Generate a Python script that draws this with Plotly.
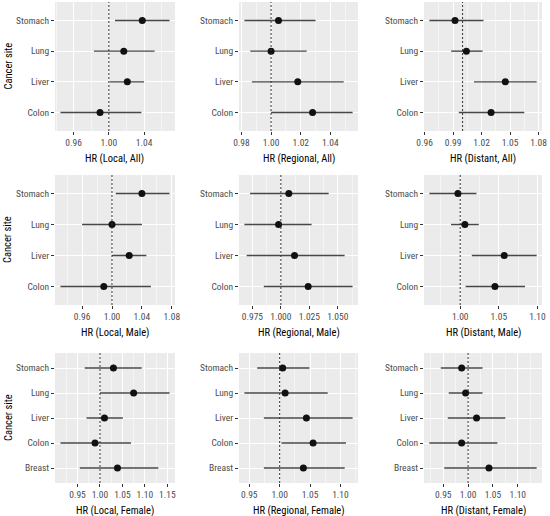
import plotly.graph_objects as go

# ---------------- data ----------------
SITES4 = ["Stomach", "Lung", "Liver", "Colon"]
SITES5 = ["Stomach", "Lung", "Liver", "Colon", "Breast"]
REF_HR = 1.0

# Local, All
local_all_hr = [1.038, 1.017, 1.021, 0.990]
local_all_lo = [1.007, 0.983, 1.001, 0.945]
local_all_hi = [1.069, 1.052, 1.040, 1.037]
# Regional, All
regional_all_hr = [1.005, 1.000, 1.018, 1.028]
regional_all_lo = [0.982, 0.986, 0.987, 1.000]
regional_all_hi = [1.030, 1.024, 1.049, 1.055]
# Distant, All
distant_all_hr = [0.992, 1.004, 1.045, 1.030]
distant_all_lo = [0.965, 0.988, 1.012, 0.996]
distant_all_hi = [1.022, 1.021, 1.078, 1.065]
# Local, Male
local_male_hr = [1.040, 1.000, 1.023, 0.989]
local_male_lo = [1.005, 0.960, 1.000, 0.931]
local_male_hi = [1.077, 1.040, 1.046, 1.052]
# Regional, Male
regional_male_hr = [1.007, 0.998, 1.012, 1.024]
regional_male_lo = [0.973, 0.968, 0.970, 0.985]
regional_male_hi = [1.042, 1.027, 1.056, 1.063]
# Distant, Male
distant_male_hr = [0.997, 1.006, 1.057, 1.045]
distant_male_lo = [0.960, 0.988, 1.015, 1.007]
distant_male_hi = [1.021, 1.024, 1.099, 1.084]
# Local, Female
local_female_hr = [1.030, 1.075, 1.010, 0.989, 1.039]
local_female_lo = [0.966, 1.000, 0.970, 0.912, 0.955]
local_female_hi = [1.093, 1.155, 1.051, 1.069, 1.130]
# Regional, Female
regional_female_hr = [1.005, 1.009, 1.044, 1.055, 1.039]
regional_female_lo = [0.963, 0.942, 0.974, 1.003, 0.974]
regional_female_hi = [1.049, 1.079, 1.120, 1.109, 1.107]
# Distant, Female
distant_female_hr = [0.987, 0.995, 1.017, 0.987, 1.042]
distant_female_lo = [0.945, 0.961, 0.959, 0.922, 0.952]
distant_female_hi = [1.029, 1.029, 1.075, 1.059, 1.138]

X_TITLES = ["HR (Local, All)", "HR (Regional, All)", "HR (Distant, All)",
            "HR (Local, Male)", "HR (Regional, Male)", "HR (Distant, Male)",
            "HR (Local, Female)", "HR (Regional, Female)", "HR (Distant, Female)"]
X_TICKS = [
    [0.96, 1.00, 1.04],
    [0.98, 1.00, 1.02, 1.04],
    [0.96, 0.99, 1.02, 1.05, 1.08],
    [0.96, 1.00, 1.04, 1.08],
    [0.975, 1.000, 1.025, 1.050],
    [1.00, 1.05, 1.10],
    [0.95, 1.00, 1.05, 1.10, 1.15],
    [0.95, 1.00, 1.05, 1.10],
    [0.95, 1.00, 1.05, 1.10],
]
TICK_DECIMALS = [2, 2, 2, 2, 3, 2, 2, 2, 2]
Y_TITLE = "Cancer site"

panels = [
    (SITES4, local_all_hr, local_all_lo, local_all_hi),
    (SITES4, regional_all_hr, regional_all_lo, regional_all_hi),
    (SITES4, distant_all_hr, distant_all_lo, distant_all_hi),
    (SITES4, local_male_hr, local_male_lo, local_male_hi),
    (SITES4, regional_male_hr, regional_male_lo, regional_male_hi),
    (SITES4, distant_male_hr, distant_male_lo, distant_male_hi),
    (SITES5, local_female_hr, local_female_lo, local_female_hi),
    (SITES5, regional_female_hr, regional_female_lo, regional_female_hi),
    (SITES5, distant_female_hr, distant_female_lo, distant_female_hi),
]

# ---------------- layout geometry ----------------
W, H = 550, 516
COLS = [(55, 175), (239, 358), (424, 542)]
ROWS = [(2, 131), (175, 305), (353, 483)]
XTITLE_OFFSET = 27   # px below panel bottom (centre of title)
YTITLE_X = 8

FONT = "Liberation Sans Narrow, Roboto Condensed, Arial Narrow, Liberation Sans, Arial, sans-serif"
PANEL_BG = "#EBEBEB"

fig = go.Figure()
layout = dict(
    template="none",
    width=W, height=H, margin=dict(l=0, r=0, t=0, b=0, pad=0),
    paper_bgcolor="white", plot_bgcolor=PANEL_BG, showlegend=False,
    font=dict(family=FONT, size=10, color="black"),
)
shapes = []
annotations = []

for i, (sites, hr, lo, hi) in enumerate(panels):
    r, c = divmod(i, 3)
    xn = "x" if i == 0 else f"x{i+1}"
    yn = "y" if i == 0 else f"y{i+1}"
    xk = "xaxis" if i == 0 else f"xaxis{i+1}"
    yk = "yaxis" if i == 0 else f"yaxis{i+1}"

    fig.add_trace(go.Scatter(
        x=hr, y=sites, mode="markers", xaxis=xn, yaxis=yn,
        marker=dict(color="#111111", size=7, line=dict(width=0)),
        error_x=dict(type="data", symmetric=False,
                     array=[h - p for h, p in zip(hi, hr)],
                     arrayminus=[p - l for p, l in zip(hr, lo)],
                     width=0, thickness=1.4, color="#484848"),
        hoverinfo="skip",
    ))

    dmin, dmax = min(lo), max(hi)
    span = dmax - dmin
    xr = [dmin - 0.05 * span, dmax + 0.05 * span]
    n = len(sites)

    ticks = X_TICKS[i]
    step = ticks[1] - ticks[0]
    ext = [ticks[0] - step] + ticks + [ticks[-1] + step]
    minor_vals = [(a + b) / 2 for a, b in zip(ext[:-1], ext[1:])]
    minor_vals = [v for v in minor_vals if xr[0] <= v <= xr[1]]
    labels = [f"{v:.{TICK_DECIMALS[i]}f}" for v in ticks]

    x0, x1 = COLS[c]
    t, b = ROWS[r]
    layout[xk] = dict(
        domain=[x0 / W, x1 / W], anchor=yn, range=xr, automargin=False,
        tickmode="array", tickvals=ticks, ticktext=labels, tickangle=0,
        showgrid=True, gridcolor="white", gridwidth=1,
        minor=dict(tickmode="array", tickvals=minor_vals, showgrid=True,
                   gridcolor="white", gridwidth=0.5, ticks=""),
        ticks="outside", ticklen=3, tickwidth=1, tickcolor="#333333",
        tickfont=dict(size=9.5, color="#4D4D4D", family=FONT),
        zeroline=False, showline=False, title=dict(text=""),
    )
    layout[yk] = dict(
        domain=[1 - b / H, 1 - t / H], anchor=xn, automargin=False,
        type="category", categoryorder="array", categoryarray=sites[::-1],
        range=[-0.6, n - 0.4],
        showgrid=True, gridcolor="white", gridwidth=1,
        ticks="outside", ticklen=3, tickwidth=1, tickcolor="#333333",
        tickfont=dict(size=9.5, color="#4D4D4D", family=FONT),
        zeroline=False, showline=False, title=dict(text=""),
    )
    shapes.append(dict(type="line", xref=xn, yref=f"{yn} domain",
                       x0=REF_HR, x1=REF_HR, y0=0, y1=1,
                       line=dict(color="#333333", width=1, dash="2px,2px")))
    annotations.append(dict(
        text=X_TITLES[i], xref="paper", yref="paper",
        x=(x0 + x1) / 2 / W, y=1 - (b + XTITLE_OFFSET) / H,
        xanchor="center", yanchor="middle", showarrow=False,
        font=dict(size=10.5, color="black", family=FONT),
    ))
    if c == 0:
        annotations.append(dict(
            text=Y_TITLE, xref="paper", yref="paper",
            x=YTITLE_X / W, y=1 - (t + b) / 2 / H,
            xanchor="center", yanchor="middle", showarrow=False, textangle=-90,
            font=dict(size=10.5, color="black", family=FONT),
        ))

layout["shapes"] = shapes
layout["annotations"] = annotations
fig.update_layout(**layout)
fig.write_html("out.html", config={"displayModeBar": False, "staticPlot": True},
               post_script="document.body.style.margin='0';document.body.style.overflow='hidden';")
